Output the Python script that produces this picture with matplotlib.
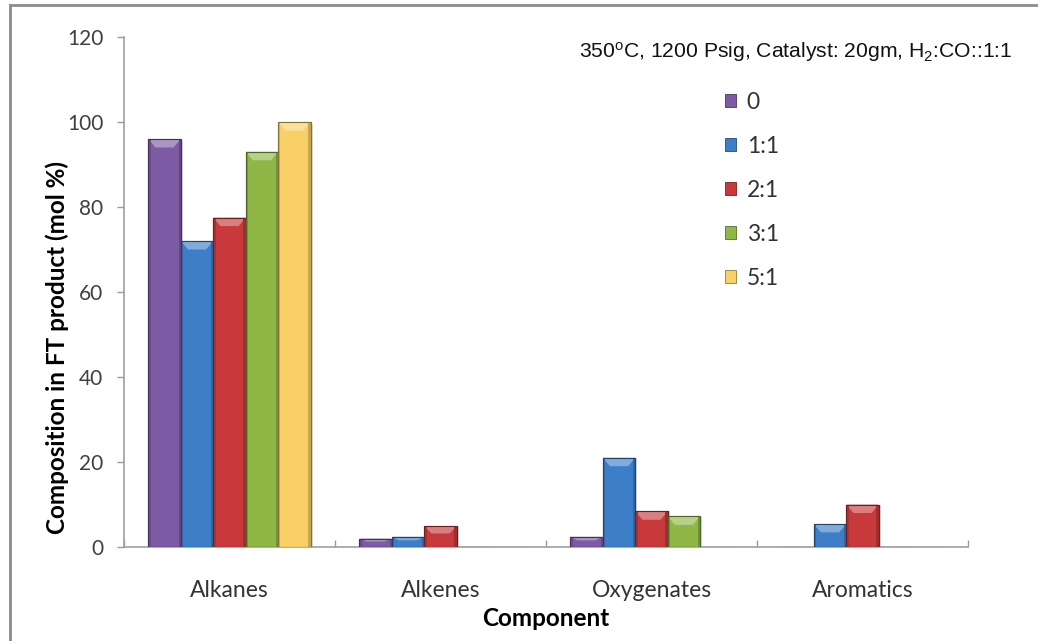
import matplotlib
matplotlib.use("Agg")
import matplotlib.pyplot as plt
from matplotlib.patches import Polygon, Rectangle
from matplotlib.lines import Line2D
import matplotlib.colors as mcolors
import numpy as np

# Product composition (mol %) by component for each promoter ratio
categories = ["Alkanes", "Alkenes", "Oxygenates", "Aromatics"]
series_labels = ["0", "1:1", "2:1", "3:1", "5:1"]
ratio_0 = [96.0, 2.0, 2.4, 0.0]
ratio_1_1 = [72.0, 2.4, 21.0, 5.3]
ratio_2_1 = [77.5, 4.9, 8.4, 10.0]
ratio_3_1 = [93.0, 0.0, 7.2, 0.0]
ratio_5_1 = [100.0, 0.0, 0.0, 0.0]
series_values = [ratio_0, ratio_1_1, ratio_2_1, ratio_3_1, ratio_5_1]
y_ticks = [0, 20, 40, 60, 80, 100, 120]

colors = ["#7C5AA4", "#3D7EC9", "#C8393B", "#8FB746", "#F9CF68"]

plt.rcParams["mathtext.fontset"] = "custom"
plt.rcParams["mathtext.rm"] = "Liberation Sans"
plt.rcParams["mathtext.it"] = "Liberation Sans:italic"

W, H = 1038, 641
fig = plt.figure(figsize=(W / 100, H / 100), dpi=100)
ax = fig.add_axes([124 / W, 1 - 547 / H, (968 - 124) / W, (547 - 37) / H])

n = len(series_values)
width = 1 / (n + 1.5)
x = np.arange(len(categories))


def shade(c, f):
    r, g, b = mcolors.to_rgb(c)
    if f >= 0:
        return (r + (1 - r) * f, g + (1 - g) * f, b + (1 - b) * f)
    return (r * (1 + f), g * (1 + f), b * (1 + f))


for i, (vals, col) in enumerate(zip(series_values, colors)):
    pos = x + (i - (n - 1) / 2) * width
    bars = ax.bar(pos, vals, width, color=col, edgecolor=shade(col, -0.45),
                  linewidth=0.8, zorder=3)
    for b in bars:
        h = b.get_height()
        if h <= 0:
            continue
        x0, w = b.get_x(), b.get_width()
        # soft shadow to the right of each bar
        ax.add_patch(Rectangle((x0 + w, 0), w * 0.06, h * 0.995,
                               color="0.75", alpha=0.5, zorder=2, lw=0))
        # bevelled top and side edges
        bev_y = min(2.0, h * 0.35)
        bev_x = w * 0.22
        ax.add_patch(Polygon([(x0, h), (x0 + w, h), (x0 + w - bev_x, h - bev_y),
                              (x0 + bev_x, h - bev_y)], closed=True,
                             color=shade(col, 0.35), lw=0, zorder=4))
        ax.add_patch(Rectangle((x0, 0), w * 0.07, h, color=shade(col, -0.15),
                               lw=0, zorder=4))
        ax.add_patch(Rectangle((x0 + w * 0.93, 0), w * 0.07, h,
                               color=shade(col, -0.2), lw=0, zorder=4))
        ax.add_patch(Rectangle((x0, 0), w, h, fill=False,
                               edgecolor=shade(col, -0.45), lw=0.8, zorder=5))

ax.set_xlim(-0.5, len(categories) - 0.5)
ax.set_ylim(0, 120)
ax.set_yticks(y_ticks)
ax.set_yticklabels([str(t) for t in y_ticks], fontfamily="Lato", fontsize=15,
                   color="#404040")

# category labels between boundary ticks
ax.set_xticks(x)
ax.set_xticklabels(categories, fontfamily="Lato", fontsize=16.5, color="#333333")
ax.tick_params(axis="x", length=0, pad=24)
ax.set_xticks(np.arange(-0.5, len(categories)), minor=True)
ax.tick_params(axis="x", which="minor", direction="in", length=5,
               color="#9a9a9a", width=1)
ax.tick_params(axis="y", direction="out", length=5, color="#9a9a9a",
               width=1, pad=10)

for s in ["top", "right"]:
    ax.spines[s].set_visible(False)
for s in ["left", "bottom"]:
    ax.spines[s].set_color("#a0a0a0")
    ax.spines[s].set_linewidth(1.2)

ax.set_ylabel("Composition in FT product (mol %)", fontfamily="Lato",
              fontweight="bold", fontsize=17.5, va="center")
ax.yaxis.set_label_coords((57 - 124) / 844, (547 - 348) / 510)
ax.set_xlabel("Component", fontfamily="Lato", fontweight="bold", fontsize=17.5,
              va="center")
ax.xaxis.set_label_coords(0.5, -(618 - 547) / 510)

fig.text(1012 / W, 1 - 52 / H,
         r"350$^{\rm o}$C, 1200 Psig, Catalyst: 20gm, H$_2$:CO::1:1",
         fontfamily="Liberation Sans", fontsize=15.2, ha="right", va="center",
         color="#111111")

handles = [Rectangle((0, 0), 1, 1, facecolor=c, edgecolor=shade(c, -0.4), lw=0.6)
           for c in colors]
leg = fig.legend(handles, series_labels, loc="upper left",
                 bbox_to_anchor=(725 / W, 1 - 92 / H), frameon=False,
                 prop={"family": "Lato", "size": 16.5}, handlelength=0.5,
                 handleheight=0.5, handletextpad=0.45, labelspacing=1.0,
                 borderaxespad=0, borderpad=0)
for t in leg.get_texts():
    t.set_color("#333333")

# outer chart frame (top and left edges)
fig.add_artist(Line2D([10 / W, 1], [1 - 5 / H, 1 - 5 / H], color="#8c8c8c",
                      lw=2, transform=fig.transFigure))
fig.add_artist(Line2D([10 / W, 10 / W], [0, 1 - 5 / H], color="#8c8c8c",
                      lw=2, transform=fig.transFigure))

fig.savefig("out.png", dpi=100)
